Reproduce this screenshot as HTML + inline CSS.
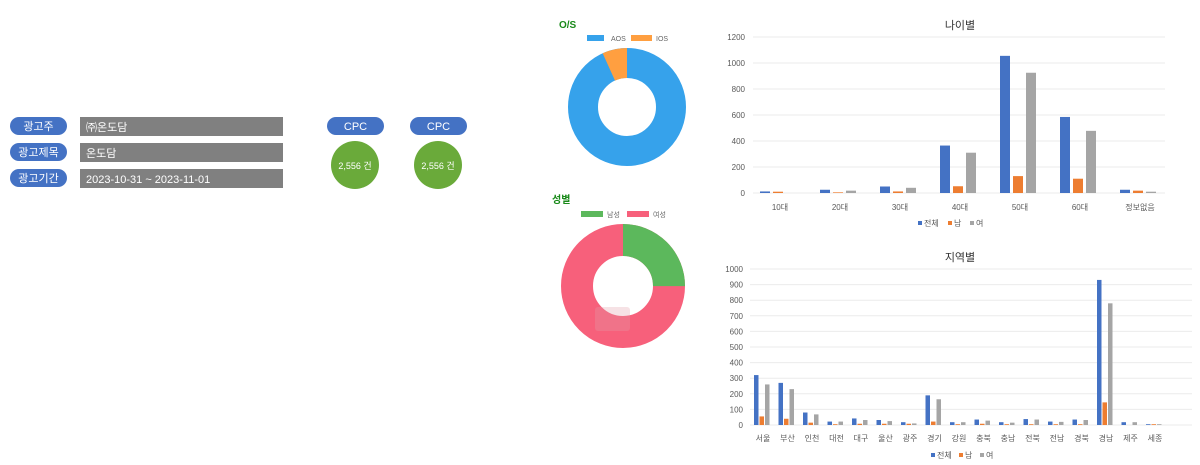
<!DOCTYPE html>
<html><head><meta charset="utf-8"><style>
body{margin:0;background:#fff;width:1200px;height:465px;overflow:hidden;font-family:"Liberation Sans","Noto Sans CJK KR",sans-serif}
svg{display:block}
</style></head><body>
<svg id="s" width="1200" height="465" xmlns="http://www.w3.org/2000/svg" font-family="Liberation Sans, Noto Sans CJK KR, sans-serif">
<g font-size="11" fill="#fff" text-anchor="middle">
<rect x="10" y="117" width="57" height="18" rx="9" fill="#4472c4"/><text x="38.5" y="130">광고주</text>
<rect x="10" y="143" width="57" height="18" rx="9" fill="#4472c4"/><text x="38.5" y="156">광고제목</text>
<rect x="10" y="169" width="57" height="18" rx="9" fill="#4472c4"/><text x="38.5" y="182">광고기간</text>
</g>
<g font-size="11" fill="#fff">
<rect x="80" y="117" width="203" height="19" fill="#808080"/><text x="86" y="131">㈜온도담</text>
<rect x="80" y="143" width="203" height="19" fill="#808080"/><text x="86" y="157">온도담</text>
<rect x="80" y="169" width="203" height="19" fill="#808080"/><text x="86" y="183">2023-10-31 ~ 2023-11-01</text>
</g>
<g font-size="11" fill="#fff" text-anchor="middle">
<rect x="327" y="117" width="57" height="18" rx="9" fill="#4472c4"/><text x="355.5" y="130">CPC</text>
<rect x="410" y="117" width="57" height="18" rx="9" fill="#4472c4"/><text x="438.5" y="130">CPC</text>
<circle cx="355" cy="165" r="24" fill="#6aaa3a"/><text x="355" y="169" font-size="9">2,556 건</text>
<circle cx="438" cy="165" r="24" fill="#6aaa3a"/><text x="438" y="169" font-size="9">2,556 건</text>
</g>
<text x="559" y="28" font-size="10" font-weight="bold" fill="#1a8a1a">O/S</text>
<rect x="587" y="35" width="17" height="6" fill="#36a2eb"/><text x="611" y="41" font-size="7" fill="#666">AOS</text>
<rect x="631" y="35" width="21" height="6" fill="#ff9f40"/><text x="656" y="41" font-size="7" fill="#666">IOS</text>
<circle cx="627" cy="107" r="44" fill="none" stroke="#36a2eb" stroke-width="30"/>
<circle cx="627" cy="107" r="44" fill="none" stroke="#ff9f40" stroke-width="30" stroke-dasharray="19.2 500" stroke-dashoffset="-257.3" transform="rotate(-90 627 107)"/>
<text x="552" y="203" font-size="10" font-weight="bold" fill="#1a8a1a">성별</text>
<rect x="581" y="211" width="22" height="6" fill="#5cb85c"/><text x="607" y="217" font-size="7" fill="#666">남성</text>
<rect x="627" y="211" width="22" height="6" fill="#f7607b"/><text x="653" y="217" font-size="7" fill="#666">여성</text>
<circle cx="623" cy="286" r="46" fill="none" stroke="#f7607b" stroke-width="32"/>
<circle cx="623" cy="286" r="46" fill="none" stroke="#5cb85c" stroke-width="32" stroke-dasharray="72.3 500" transform="rotate(-90 623 286)"/>
<rect x="595" y="307" width="35" height="24" rx="3" fill="#e0a0a8" opacity="0.3"/>
<text x="960" y="29" font-size="11" fill="#333" text-anchor="middle">나이별</text>
<g id="age"></g>
<text x="960" y="261" font-size="11" fill="#333" text-anchor="middle">지역별</text>
<g id="reg"></g>
</svg>
<script>
var NS="http://www.w3.org/2000/svg";
function el(p,t,a,txt){var e=document.createElementNS(NS,t);for(var k in a)e.setAttribute(k,a[k]);if(txt!=null)e.textContent=txt;p.appendChild(e);return e;}
var C=["#4472c4","#ed7d31","#a5a5a5"];
var g=document.getElementById("age");
for(var v=0;v<=1200;v+=200){var y=193-v*0.13;el(g,"line",{x1:753,x2:1165,y1:y,y2:y,stroke:"#ebebeb","stroke-width":1});el(g,"text",{x:745,y:y+3,"font-size":8,fill:"#595959","text-anchor":"end"},v);}
var A=[["10대",12,10,0],["20대",25,5,18],["30대",50,12,40],["40대",365,52,310],["50대",1055,130,925],["60대",585,110,478],["정보없음",25,18,10]];
A.forEach(function(d,i){var c=780+60*i;[-20,-7,6].forEach(function(o,j){var h=d[j+1]*0.13;el(g,"rect",{x:c+o,y:193-h,width:10,height:h,fill:C[j]});});el(g,"text",{x:c,y:210,"font-size":8,fill:"#595959","text-anchor":"middle"},d[0]);});
[["전체",918],["남",948],["여",970]].forEach(function(d,j){el(g,"rect",{x:d[1],y:221,width:4,height:4,fill:C[j]});el(g,"text",{x:d[1]+6,y:226,"font-size":8,fill:"#595959"},d[0]);});
var r=document.getElementById("reg");
for(var v=0;v<=1000;v+=100){var y=425-v*0.156;el(r,"line",{x1:750,x2:1192,y1:y,y2:y,stroke:"#ebebeb","stroke-width":1});el(r,"text",{x:743,y:y+3,"font-size":8,fill:"#595959","text-anchor":"end"},v);}
var R=[["서울",320,55,260],["부산",270,40,230],["인천",80,15,68],["대전",22,5,22],["대구",42,8,32],["울산",32,8,25],["광주",18,8,10],["경기",190,22,165],["강원",18,5,18],["충북",35,8,28],["충남",18,5,15],["전북",38,5,35],["전남",22,5,20],["경북",35,5,32],["경남",930,145,780],["제주",18,0,18],["세종",5,5,5]];
R.forEach(function(d,i){var c=763+24.5*i;[-9,-3.5,2].forEach(function(o,j){var h=d[j+1]*0.156;el(r,"rect",{x:c+o,y:425-h,width:4.5,height:h,fill:C[j]});});el(r,"text",{x:c,y:441,"font-size":8,fill:"#595959","text-anchor":"middle"},d[0]);});
[["전체",931],["남",959],["여",980]].forEach(function(d,j){el(r,"rect",{x:d[1],y:453,width:4,height:4,fill:C[j]});el(r,"text",{x:d[1]+6,y:458,"font-size":8,fill:"#595959"},d[0]);});
</script>
</body></html>
